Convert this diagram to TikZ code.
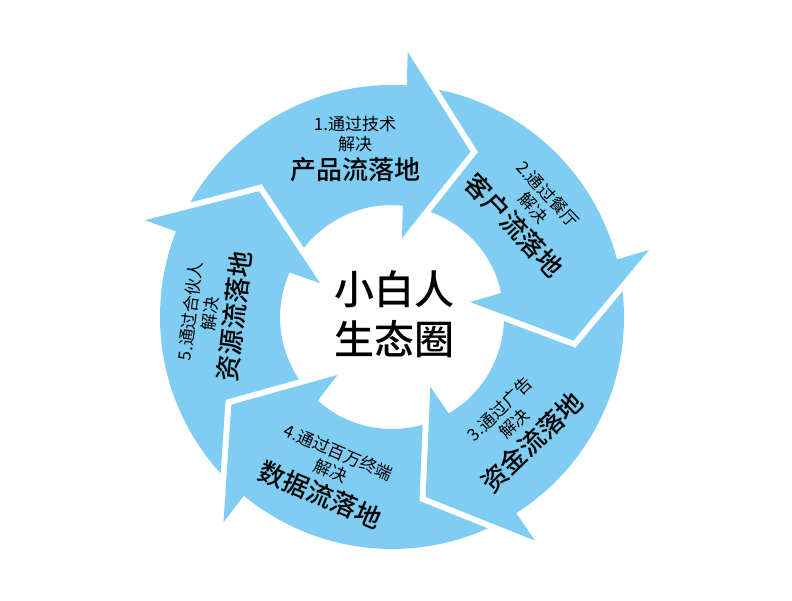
\documentclass[tikz,border=0pt]{standalone}
\usepackage{fontspec}
\setmainfont{Noto Sans CJK SC}
\newfontfamily\cjkmedium{Noto Sans CJK SC Medium}
\definecolor{segblue}{RGB}{127,205,242}
\tikzset{
  segfill/.style={fill=segblue},
  gapline/.style={draw=white, line width=12pt, line join=miter, miter limit=10},
  smalltxt/.style={inner sep=0pt, font=\fontsize{17pt}{17pt}\selectfont, text=black},
  bigtxt/.style={inner sep=0pt, font=\cjkmedium\fontsize{26pt}{26pt}\selectfont, text=black},
  centertxt/.style={inner sep=0pt, font=\cjkmedium\fontsize{40pt}{40pt}\selectfont, text=black}
}
\newcommand{\segdraw}[1]{%
  \pgfmathsetmacro\segA{#1}%
  \pgfmathsetmacro\segB{#1+78}%
  \pgfmathsetmacro\segC{#1-0.25}%
  \pgfmathsetmacro\segD{#1-22}%
  \pgfmathsetmacro\segE{#1-3.8}%
  \pgfmathsetmacro\segF{#1-2.2}%
  \draw[gapline] (\segA:265.5pt) -- (\segD:183pt) -- (\segE:79.5pt);
  \fill[segfill] (\segB:232pt) arc[start angle=\segB, end angle=\segC, radius=232pt]
    -- (\segA:265.5pt) -- (\segD:183pt) -- (\segE:79.5pt) -- (\segF:112pt)
    arc[start angle=\segF, end angle=\segB, radius=112pt] -- cycle;
}
\begin{document}
\begin{tikzpicture}
\useasboundingbox (0pt,0pt) rectangle (792pt,600pt);
\fill[white] (0pt,0pt) rectangle (792pt,600pt);
\begin{scope}[shift={(392pt,283pt)}]
  \segdraw{-201.4}
  \segdraw{-129.4}
  \segdraw{-57.4}
  \segdraw{14.6}
  \segdraw{86.6}
  \begin{scope}
    \clip (0pt,0pt) -- (128:320pt) arc[start angle=128, end angle=175, radius=320pt] -- cycle;
    \segdraw{-201.4}
  \end{scope}
\end{scope}
% labels
\begin{scope}[shift={(355pt,476pt)}, rotate=0, transform shape]
  \node[smalltxt] (s1a) at (0pt,0pt) {1.通过技术};
  \node[smalltxt] (s1b) at (0pt,-20pt) {解决};
  \node[bigtxt] (s1c) at (0pt,-46pt) {产品流落地};
\end{scope}
\begin{scope}[shift={(548pt,406pt)}, rotate=-47, transform shape]
  \node[smalltxt] (s2a) at (0pt,0pt) {2.通过餐厅};
  \node[smalltxt] (s2b) at (0pt,-20pt) {解决};
  \node[bigtxt] (s2c) at (0pt,-46pt) {客户流落地};
\end{scope}
\begin{scope}[shift={(500pt,191pt)}, rotate=44, transform shape]
  \node[smalltxt] (s3a) at (0pt,0pt) {3.通过广告};
  \node[smalltxt] (s3b) at (0pt,-20pt) {解决};
  \node[bigtxt] (s3c) at (0pt,-46pt) {资金流落地};
\end{scope}
\begin{scope}[shift={(338.5pt,147.5pt)}, rotate=-23, transform shape]
  \node[smalltxt] (s4a) at (0pt,0pt) {4.通过百万终端};
  \node[smalltxt] (s4b) at (0pt,-20pt) {解决};
  \node[bigtxt] (s4c) at (0pt,-46pt) {数据流落地};
\end{scope}
\begin{scope}[shift={(190.5pt,289pt)}, rotate=83, transform shape]
  \node[smalltxt] (s5a) at (0pt,0pt) {5.通过合伙人};
  \node[smalltxt] (s5b) at (0pt,-20pt) {解决};
  \node[bigtxt] (s5c) at (0pt,-44pt) {资源流落地};
\end{scope}
\node[centertxt] (c1) at (394pt,311pt) {小白人};
\node[centertxt] (c2) at (394pt,261pt) {生态圈};
\end{tikzpicture}
\end{document}
